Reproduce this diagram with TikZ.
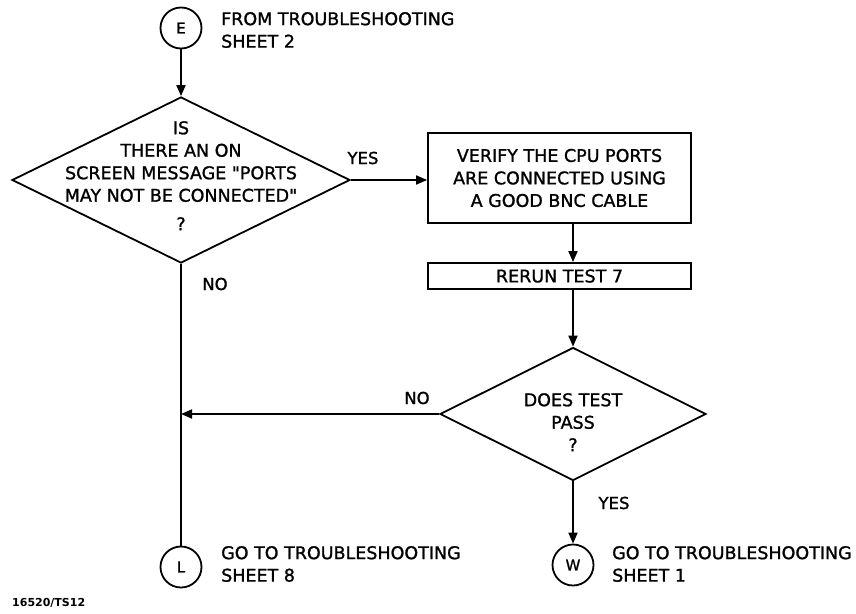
\documentclass[tikz,border=0pt]{standalone}
\usepackage{fontspec}
\newfontfamily\plotfont[FakeBold=1.2]{DejaVu Sans}
\newfontfamily\plotbold{DejaVu Sans Bold}
\usetikzlibrary{shapes.geometric,arrows.meta}
\tikzset{
  every picture/.style={x=1pt,y=-1pt},
  lw/.style={line width=1.8pt},
  conn/.style={lw,-{Triangle[length=11pt,width=9pt]}},
  plain/.style={lw},
  term/.style={circle,draw,lw,minimum size=41pt,inner sep=0pt,font=\plotfont\fontsize{15}{17}\selectfont},
  dia/.style={diamond,draw,lw,inner sep=0pt,aspect=2},
  stepbox/.style={rectangle,draw,lw,inner sep=0pt},
  txt/.style={font=\plotfont\fontsize{17.5}{22.5}\selectfont,inner sep=0pt},
  lbl/.style={font=\plotfont\fontsize{16.5}{22}\selectfont,inner sep=0pt},
}
\begin{document}
\begin{tikzpicture}
\useasboundingbox (0,0) rectangle (856,613);
% terminals
\node[term] (E) at (181,28) {E};
\node[term] (L) at (181,567) {L};
\node[term] (W) at (573,565) {W};
% diamonds
\node[dia,minimum width=338pt,minimum height=166pt] (d1) at (181,180) {};
\node[txt,align=center,anchor=north] (d1t) at (181,121) {IS\\THERE AN ON\\SCREEN MESSAGE "PORTS\\MAY NOT BE CONNECTED"\\[6pt]?};
\node[dia,minimum width=266pt,minimum height=133pt] (d2) at (573,414) {};
\node[txt,align=center,anchor=north] (d2t) at (573,393) {DOES TEST\\PASS\\?};
% boxes
\node[stepbox,minimum width=263pt,minimum height=90pt] (b1) at (559.5,178) {};
\node[txt,align=center] (b1t) at (559.5,178) {VERIFY THE CPU PORTS\\ARE CONNECTED USING\\A GOOD BNC CABLE};
\node[stepbox,minimum width=263pt,minimum height=26pt] (b2) at (559.5,276) {};
\node[txt] (b2t) at (559.5,276) {RERUN TEST 7};
% side texts
\node[txt,align=left,anchor=west] (tE) at (221,30) {FROM TROUBLESHOOTING\\SHEET 2};
\node[txt,align=left,anchor=west] (tL) at (221,564) {GO TO TROUBLESHOOTING\\SHEET 8};
\node[txt,align=left,anchor=west] (tW) at (612,564) {GO TO TROUBLESHOOTING\\SHEET 1};
\node[anchor=west,inner sep=0pt,font=\plotbold\fontsize{11}{13}\selectfont] (ref) at (12,603) {16520/TS12};
% labels
\node[lbl] (yes1) at (363,158) {YES};
\node[lbl] (no1) at (215,284) {NO};
\node[lbl] (no2) at (417,398) {NO};
\node[lbl] (yes2) at (614,503) {YES};
% connectors
\draw[conn] (E.south) -- (d1.north);
\draw[conn] (d1.east) -- (d1.east -| b1.west);
\draw[conn] (b1.south -| d2.north) -- (b2.north -| d2.north);
\draw[conn] (b2.south -| d2.north) -- (d2.north);
\draw[conn] (d2.west) -- (d2.west -| d1.south);
\draw[plain] (d1.south) -- (L.north);
\draw[conn] (d2.south) -- (W.north);
\end{tikzpicture}
\end{document}
